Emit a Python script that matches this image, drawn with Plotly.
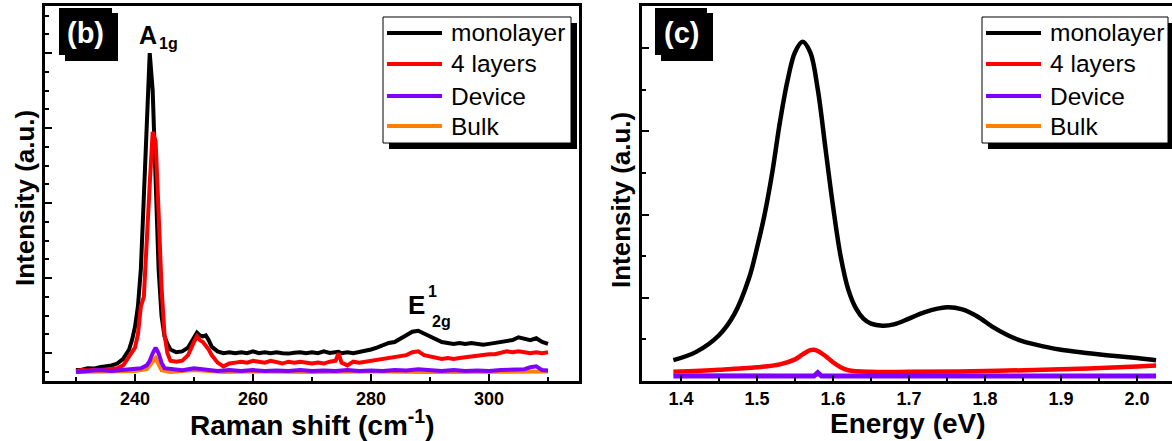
import plotly.graph_objects as go

# ---------------- Raman data (panel b) ----------------
raman_x = [230, 231, 232, 233, 234, 235, 236, 237, 238, 239, 239.5, 240, 240.5, 241, 241.5, 242, 242.5,
           243, 243.5, 244, 244.5, 245, 245.5, 246, 247, 248, 249, 250, 250.5, 251, 251.5, 252, 252.5,
           253, 254, 255, 256, 257, 258, 259, 260, 261, 262, 263, 264, 265, 266, 267, 268, 269, 270,
           271, 272, 273, 274, 274.5, 275, 276, 277, 278, 279, 280, 281, 282, 283, 284, 285, 286, 287,
           288, 289, 290, 291, 292, 293, 294, 295, 296, 297, 298, 299, 300, 301, 302, 303, 304, 305,
           306, 307, 308, 309, 310]
raman_mono = [0.10, 0.12, 0.20, 0.18, 0.25, 0.28, 0.35, 0.45, 0.70, 1.2, 1.7, 2.4, 3.5, 5.5, 9.0, 13.5, 17.0,
              15.0, 10.0, 5.5, 3.0, 1.9, 1.5, 1.2, 1.05, 1.1, 1.3, 1.9, 2.1, 1.95, 1.9, 1.95, 1.7,
              1.35, 1.1, 1.0, 1.05, 1.0, 1.05, 1.0, 1.1, 1.0, 1.05, 1.0, 1.05, 1.0, 0.98, 1.02, 1.05, 1.0, 1.05,
              1.0, 1.1, 1.02, 1.05, 1.08, 1.0, 1.05, 1.0, 1.05, 1.1, 1.2, 1.3, 1.45, 1.55, 1.6, 1.8, 1.95, 2.15,
              2.2, 2.05, 1.85, 1.7, 1.6, 1.55, 1.5, 1.55, 1.5, 1.55, 1.5, 1.45, 1.5, 1.55, 1.55, 1.6, 1.7, 1.85,
              1.8, 1.7, 1.8, 1.6, 1.5]
raman_4l = [0.05, 0.10, 0.08, 0.12, 0.10, 0.15, 0.15, 0.20, 0.35, 0.8, 1.0, 1.3, 2.0, 3.5, 4.0, 7.5, 10.0,
            12.8, 12.3, 8.5, 4.5, 2.0, 1.0, 0.6, 0.55, 0.6, 0.9, 1.6, 1.9, 1.7, 1.6, 1.4, 1.2,
            0.9, 0.5, 0.3, 0.45, 0.5, 0.55, 0.5, 0.6, 0.55, 0.5, 0.6, 0.55, 0.45, 0.55, 0.5, 0.55, 0.5, 0.45,
            0.5, 0.45, 0.55, 0.6, 1.0, 0.5, 0.35, 0.55, 0.5, 0.55, 0.55, 0.6, 0.65, 0.7, 0.75, 0.85, 0.9, 1.05,
            1.1, 0.9, 0.85, 0.75, 0.7, 0.75, 0.7, 0.75, 0.8, 0.8, 0.85, 0.9, 0.95, 0.95, 1.05, 1.1, 1.05, 1.1,
            1.05, 1.0, 1.05, 1.0, 1.05]
raman_dev_x = [230, 232, 234, 236, 238, 240, 241, 242, 242.5, 243, 243.5, 244, 244.5, 245, 246, 248, 250,
               252, 254, 256, 258, 260, 262, 264, 266, 268, 270, 272, 274, 276, 278, 280, 282, 284, 286,
               288, 290, 292, 294, 296, 298, 300, 302, 304, 306, 307, 308, 309, 310]
raman_dev = [0.0, 0.05, 0.1, 0.05, 0.1, 0.15, 0.2, 0.35, 0.6, 1.0, 1.3, 1.0, 0.5, 0.2, 0.15, 0.1, 0.2,
             0.1, 0.05, 0.1, 0.05, 0.1, 0.05, 0.08, 0.05, 0.1, 0.05, 0.08, 0.05, 0.1, 0.05, 0.08, 0.05, 0.1, 0.08,
             0.15, 0.08, 0.05, 0.1, 0.05, 0.08, 0.05, 0.1, 0.1, 0.15, 0.25, 0.3, 0.1, 0.08]
raman_bulk_x = [230, 235, 240, 242, 243, 243.5, 244, 244.5, 246, 250, 255, 260, 270, 280, 290, 300, 305, 310]
raman_bulk = [0.0, 0.0, 0.05, 0.15, 0.5, 0.75, 0.4, 0.1, 0.0, 0.1, 0.0, 0.03, 0.0, 0.03, 0.0, 0.03, 0.0, 0.02]

# ---------------- PL data (panel c) ----------------
pl_x = [1.39, 1.42, 1.45, 1.47, 1.49, 1.50, 1.51, 1.52, 1.53, 1.54, 1.55, 1.56, 1.57, 1.58, 1.59, 1.60,
        1.61, 1.62, 1.63, 1.64, 1.65, 1.665, 1.68, 1.70, 1.72, 1.75, 1.77, 1.79, 1.81, 1.83, 1.85, 1.88,
        1.90, 1.93, 1.96, 2.00, 2.025]
pl_mono = [0.5, 0.7, 1.1, 1.6, 2.5, 3.2, 4.0, 5.0, 6.2, 7.2, 7.9, 8.15, 7.9, 7.0, 5.6, 4.2,
           3.0, 2.2, 1.75, 1.5, 1.38, 1.33, 1.36, 1.5, 1.65, 1.77, 1.72, 1.55, 1.3, 1.1, 0.95, 0.82,
           0.75, 0.68, 0.62, 0.55, 0.5]
pl4_x = [1.39, 1.45, 1.50, 1.53, 1.55, 1.56, 1.57, 1.575, 1.58, 1.59, 1.60, 1.61, 1.62, 1.65, 1.70, 1.80,
         1.90, 2.00, 2.025]
pl_4l = [0.22, 0.27, 0.33, 0.40, 0.52, 0.64, 0.74, 0.75, 0.72, 0.6, 0.45, 0.33, 0.26, 0.22, 0.22, 0.24,
         0.28, 0.35, 0.37]
pld_x = [1.39, 1.50, 1.575, 1.58, 1.585, 1.70, 1.80, 1.90, 2.025]
pl_dev = [0.12, 0.12, 0.12, 0.2, 0.12, 0.12, 0.12, 0.12, 0.12]
plb_x = [1.39, 1.45, 1.50, 1.55, 1.60, 1.80, 2.025]
pl_bulk = [0.16, 0.16, 0.15, 0.14, 0.12, 0.12, 0.12]

names = ["monolayer", "4 layers", "Device", "Bulk"]
colors = ["#000000", "#ff0000", "#8000ff", "#ff8000"]

W, H = 1172, 441
def px(x):
    return x / W
def py(y):
    return 1 - y / H

FONT = "Liberation Sans, Arial, sans-serif"
fig = go.Figure()

LW = 4
# panel b
fig.add_trace(go.Scatter(x=raman_x, y=raman_mono, mode="lines", line=dict(color=colors[0], width=LW), xaxis="x", yaxis="y"))
fig.add_trace(go.Scatter(x=raman_x, y=raman_4l, mode="lines", line=dict(color=colors[1], width=LW), xaxis="x", yaxis="y"))
fig.add_trace(go.Scatter(x=raman_bulk_x, y=raman_bulk, mode="lines", line=dict(color=colors[3], width=LW), xaxis="x", yaxis="y"))
fig.add_trace(go.Scatter(x=raman_dev_x, y=raman_dev, mode="lines", line=dict(color=colors[2], width=LW), xaxis="x", yaxis="y"))
# panel c
fig.add_trace(go.Scatter(x=pl_x, y=pl_mono, mode="lines", line=dict(color=colors[0], width=4.5, shape="spline"), xaxis="x2", yaxis="y2"))
fig.add_trace(go.Scatter(x=pl4_x, y=pl_4l, mode="lines", line=dict(color=colors[1], width=4.5, shape="spline"), xaxis="x2", yaxis="y2"))
fig.add_trace(go.Scatter(x=plb_x, y=pl_bulk, mode="lines", line=dict(color=colors[3], width=2), xaxis="x2", yaxis="y2"))
fig.add_trace(go.Scatter(x=pld_x, y=pl_dev, mode="lines", line=dict(color=colors[2], width=5), xaxis="x2", yaxis="y2"))

ydom = [py(381), py(6)]
axcommon = dict(showline=True, linecolor="black", linewidth=2.5, ticks="inside", tickcolor="black",
                tickwidth=2, showgrid=False, zeroline=False,
                tickfont=dict(family=FONT, size=18, color="black", weight="bold"))

fig.update_layout(
    width=W, height=H, margin=dict(l=0, r=0, t=0, b=0),
    paper_bgcolor="white", plot_bgcolor="white", showlegend=False,
    xaxis=dict(domain=[px(45), px(579)], range=[224.75, 315.25], tick0=240, dtick=20, ticklen=7,
               minor=dict(ticks="inside", dtick=10, ticklen=4, tickcolor="black", tickwidth=2),
               mirror=True, anchor="y", **axcommon),
    yaxis=dict(domain=ydom, range=[-0.48, 19.51], tick0=1, dtick=4, ticklen=7, showticklabels=False,
               minor=dict(ticks="inside", dtick=1, ticklen=4, tickcolor="black", tickwidth=2),
               mirror=True, anchor="x", **axcommon),
    xaxis2=dict(domain=[px(642), 1.0], range=[1.3487, 2.046], tick0=1.4, dtick=0.1, ticklen=6,
                tickformat=".1f",
                minor=dict(ticks="inside", dtick=0.05, ticklen=4, tickcolor="black", tickwidth=2),
                mirror=True, anchor="y2", **axcommon),
    yaxis2=dict(domain=ydom, range=[0, 9.01], tick0=0, dtick=2, ticklen=7, showticklabels=False,
                minor=dict(ticks="inside", dtick=1, ticklen=4, tickcolor="black", tickwidth=2),
                mirror=False, anchor="x2", **axcommon),
)

shapes = []
annotations = []

def rect(x0, y0, x1, y1, fill, line_color=None, lw=0):
    shapes.append(dict(type="rect", xref="paper", yref="paper", x0=px(x0), x1=px(x1), y0=py(y1), y1=py(y0),
                       fillcolor=fill, line=dict(color=line_color or fill, width=lw), layer="above"))

def text(x, y, s, size, color="black", bold=False, xanchor="center", yanchor="middle", angle=0):
    annotations.append(dict(xref="paper", yref="paper", x=px(x), y=py(y), text=s, showarrow=False,
                            xanchor=xanchor, yanchor=yanchor, textangle=angle,
                            font=dict(family=FONT, size=size, color=color, weight="bold" if bold else "normal")))

# panel labels
for (bx0, bx1, lbl) in [(59, 112, "(b)"), (655, 707, "(c)")]:
    rect(bx0 + 6, 13, bx1 + 6, 61, "black")
    rect(bx0, 8, bx1, 55, "black")
    text((bx0 + bx1) / 2, 33, lbl, 29, color="white", bold=True)

# legends
rows = [33, 64, 96, 126]
for (lx0, lx1) in [(383, 571), (982, 1168)]:
    rect(lx0 + 6, 23, lx1 + 6, 149, "black")
    rect(lx0, 17, lx1, 143, "white", line_color="black", lw=1)
    for i, (nm, c) in enumerate(zip(names, colors)):
        shapes.append(dict(type="line", xref="paper", yref="paper", x0=px(lx0 + 4), x1=px(lx0 + 59),
                           y0=py(rows[i]), y1=py(rows[i]), line=dict(color=c, width=4), layer="above"))
        text(lx0 + 66, rows[i], nm, 24.5, xanchor="left")

# peak labels
text(148, 35, "A", 25, bold=True)
text(168, 43, "1g", 16, bold=True)
text(416, 305, "E", 26, bold=True)
text(432, 291, "1", 16, bold=True)
text(441, 321, "2g", 16, bold=True)

# axis titles
text(312, 423, "Raman shift (cm<sup>-1</sup>)", 28, bold=True)
text(908, 423, "Energy (eV)", 28, bold=True)
text(25, 198, "Intensity (a.u.)", 26, bold=True, angle=-90)
text(621, 200, "Intensity (a.u.)", 26, bold=True, angle=-90)

fig.update_layout(shapes=shapes, annotations=annotations)
fig.write_html("out.html")
